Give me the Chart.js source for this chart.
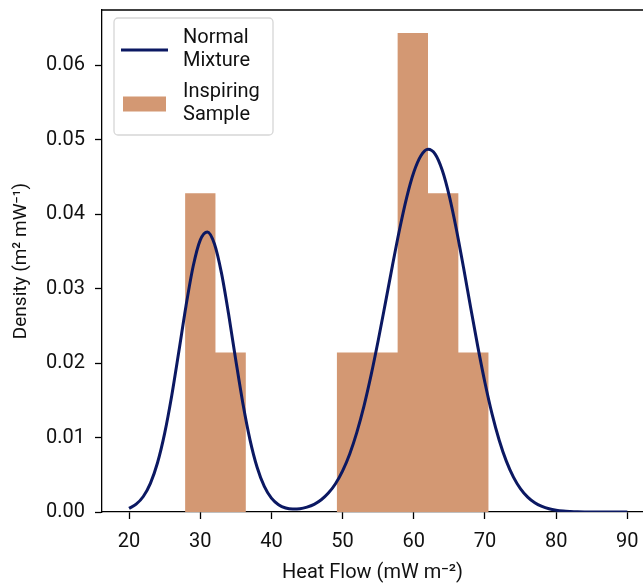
<!DOCTYPE html>
<html lang="en">
<head>
    <meta charset="UTF-8">
    <title>Heat Flow Density</title>
    <style>
        body {
            margin: 0;
            background: #fff;
        }
        .wrap {
            width: 643px;
            height: 587px;
            position: relative;
        }
    </style>
</head>
<body>
<div class="wrap">
    <canvas id="histChart" width="643" height="587"></canvas>
</div>

<script src="https://cdn.jsdelivr.net/npm/chart.js"></script>
<script>
    // histogram bins (left edges + last right edge) and densities
    const binEdges = [27.87, 32.14, 36.40, 40.67, 44.93, 49.20, 53.46, 57.73, 62.00, 66.26, 70.52];
    const binDensity = [0.0428, 0.0214, 0, 0, 0, 0.0214, 0.0214, 0.0643, 0.0428, 0.0214];

    // normal mixture curve
    const curveX = [20, 21, 22, 23, 24, 25, 26, 27, 28, 29, 30, 31, 32, 33, 34, 35, 36, 37, 38, 39,
        40, 41, 42, 43, 44, 45, 46, 47, 48, 49, 50, 51, 52, 53, 54, 55, 56, 57, 58, 59,
        60, 61, 62, 63, 64, 65, 66, 67, 68, 69, 70, 71, 72, 73, 74, 75, 76, 77, 78, 79,
        80, 81, 82, 83, 84, 85, 86, 87, 88, 89, 90];
    const curveY = [0.00049, 0.00105, 0.00208, 0.00385, 0.00661, 0.01055, 0.01564, 0.02157, 0.02766, 0.03296,
        0.0365, 0.0376, 0.03598, 0.0320, 0.02647, 0.02035, 0.01454, 0.00966, 0.00597, 0.00343,
        0.00186, 0.00098, 0.00054, 0.0004, 0.00044, 0.00066, 0.00103, 0.00164, 0.00254, 0.0038,
        0.00553, 0.0078, 0.0107, 0.01422, 0.01837, 0.02303, 0.02801, 0.03308, 0.03793, 0.04222,
        0.04561, 0.04783, 0.0487, 0.04805, 0.04588, 0.04238, 0.03787, 0.03275, 0.02739, 0.02217,
        0.01736, 0.01315, 0.00964, 0.00683, 0.00469, 0.00311, 0.002, 0.00124, 0.00075, 0.00043,
        0.00024, 0.00013, 0.00007, 0.00003, 0.00001, 0, 0, 0, 0, 0, 0];

    const xTicks = [20, 30, 40, 50, 60, 70, 80, 90];
    const yTicks = [0, 0.01, 0.02, 0.03, 0.04, 0.05, 0.06];

    const legendItems = [
        { lines: ['Normal', 'Mixture'], kind: 'line' },
        { lines: ['Inspiring', 'Sample'], kind: 'box' }
    ];

    const curveColor = '#0b1862';
    const barColor = '#d39873';
    const font = 'Roboto, "Liberation Sans", sans-serif';

    // stepped outline of the histogram
    const histPoints = [{ x: binEdges[0], y: 0 }];
    binDensity.forEach((d, i) => histPoints.push({ x: binEdges[i], y: d }));
    histPoints.push({ x: binEdges[binEdges.length - 1], y: 0 });

    const curvePoints = curveX.map((x, i) => ({ x: x, y: curveY[i] }));

    // no automatic room for edge labels, the plot area is pinned by layout padding
    function noEdgePadding(scale) {
        scale.paddingTop = 0;
        scale.paddingBottom = 0;
        scale.paddingLeft = 0;
        scale.paddingRight = 0;
    }

    // top spine + legend box
    const extras = {
        id: 'extras',
        afterDraw(chart) {
            const ctx = chart.ctx;
            const a = chart.chartArea;
            ctx.save();
            ctx.strokeStyle = '#000';
            ctx.lineWidth = 1.3;
            ctx.beginPath();
            ctx.moveTo(a.left, a.top);
            ctx.lineTo(a.right, a.top);
            ctx.stroke();

            // legend
            const bx = 114, by = 18, bw = 159, bh = 117;
            ctx.fillStyle = 'rgba(255,255,255,0.8)';
            ctx.strokeStyle = '#d6d6d6';
            ctx.lineWidth = 1.3;
            ctx.beginPath();
            ctx.roundRect(bx, by, bw, bh, 4);
            ctx.fill();
            ctx.stroke();

            ctx.font = '20px ' + font;
            ctx.fillStyle = '#111';
            ctx.textBaseline = 'middle';
            legendItems.forEach((item, i) => {
                const cy = 50 + i * 54;
                if (item.kind === 'line') {
                    ctx.strokeStyle = curveColor;
                    ctx.lineWidth = 3;
                    ctx.beginPath();
                    ctx.moveTo(121, cy);
                    ctx.lineTo(168, cy);
                    ctx.stroke();
                } else {
                    ctx.fillStyle = barColor;
                    ctx.fillRect(123, cy - 7.5, 43, 15);
                    ctx.fillStyle = '#111';
                }
                ctx.fillText(item.lines[0], 183, cy - 12);
                ctx.fillText(item.lines[1], 183, cy + 11);
            });
            ctx.restore();
        }
    };

    const ctx = document.getElementById('histChart').getContext('2d');
    const histChart = new Chart(ctx, {
        type: 'line',
        data: {
            datasets: [
                {
                    label: 'Normal Mixture',
                    data: curvePoints,
                    borderColor: curveColor,
                    borderWidth: 3,
                    pointRadius: 0,
                    fill: false,
                    cubicInterpolationMode: 'monotone',
                    order: 1
                },
                {
                    label: 'Inspiring Sample',
                    data: histPoints,
                    stepped: true,
                    borderWidth: 0,
                    borderColor: barColor,
                    backgroundColor: barColor,
                    pointRadius: 0,
                    fill: 'origin',
                    order: 2
                }
            ]
        },
        options: {
            responsive: false,
            animation: false,
            layout: { padding: { top: 10, right: 0, left: 0, bottom: 0 } },
            plugins: {
                legend: { display: false },
                tooltip: { enabled: false }
            },
            scales: {
                x: {
                    type: 'linear',
                    min: 16.2,
                    max: 92.2,
                    afterBuildTicks: (scale) => { scale.ticks = xTicks.map(v => ({ value: v })); },
                    afterFit: (scale) => { scale.height = 75; noEdgePadding(scale); },
                    grid: {
                        display: true,
                        drawOnChartArea: false,
                        drawTicks: true,
                        tickLength: 7,
                        tickWidth: 1.3,
                        tickColor: '#000'
                    },
                    border: { display: true, color: '#000', width: 1.3 },
                    ticks: {
                        color: '#111',
                        padding: 11,
                        maxRotation: 0,
                        font: { family: font, size: 20 }
                    },
                    title: {
                        display: true,
                        text: 'Heat Flow (mW m\u207B\u00B2)',
                        color: '#111',
                        padding: { top: 2, bottom: 2 },
                        font: { family: font, size: 20 }
                    }
                },
                y: {
                    min: 0,
                    max: 0.0674,
                    afterBuildTicks: (scale) => { scale.ticks = yTicks.map(v => ({ value: v })); },
                    afterFit: (scale) => { scale.width = 102; noEdgePadding(scale); },
                    grid: {
                        display: true,
                        drawOnChartArea: false,
                        drawTicks: true,
                        tickLength: 7,
                        tickWidth: 1.3,
                        tickColor: '#000'
                    },
                    border: { display: true, color: '#000', width: 1.3 },
                    ticks: {
                        color: '#111',
                        padding: 10,
                        callback: (v) => v.toFixed(2),
                        font: { family: font, size: 20 }
                    },
                    title: {
                        display: true,
                        text: 'Density (m\u00B2 mW\u207B\u00B9)',
                        color: '#111',
                        padding: { top: 10, bottom: 4 },
                        font: { family: font, size: 19 }
                    }
                }
            }
        },
        plugins: [extras]
    });
</script>
</body>
</html>
